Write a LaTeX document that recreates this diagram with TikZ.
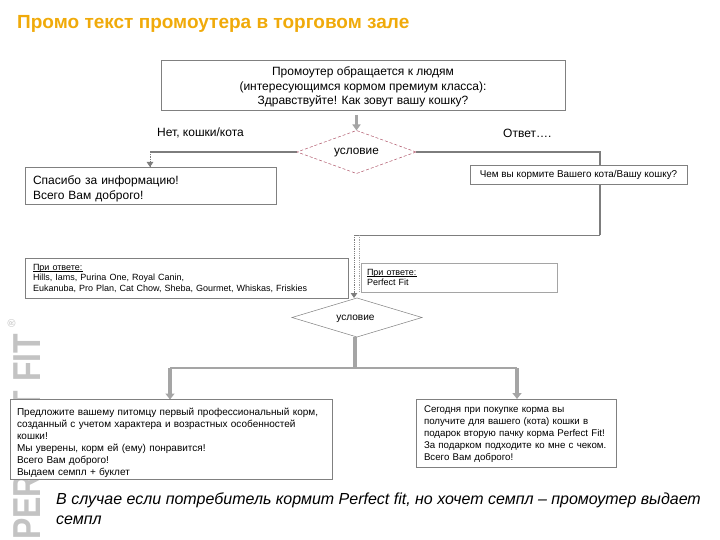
\documentclass[tikz,border=0pt]{standalone}
\usepackage{fontspec}
\usepackage{graphicx}
\setmainfont{Liberation Sans}
\usetikzlibrary{arrows.meta,shapes.geometric,backgrounds}
\definecolor{boxline}{RGB}{128,128,128}
\definecolor{conn}{RGB}{125,125,125}
\definecolor{connlight}{RGB}{165,165,165}
\definecolor{titleorange}{RGB}{240,170,10}
\definecolor{pinkline}{RGB}{175,85,105}
\definecolor{logo}{RGB}{195,195,195}
\newcommand{\askline}{\rlap{\rule[-1.3pt]{50pt}{0.7pt}}При ответе:}
\newcommand{\difflabel}{\raisebox{-3pt}[0pt][0pt]{условие}}
\tikzset{
 x=1pt,y=-1pt,
 flow/.style={rectangle,draw=boxline,line width=0.8pt,fill=white,inner ysep=0pt,inner xsep=8pt,outer sep=0pt,text=black,align=left},
 diam/.style={diamond,aspect=2.74,inner sep=0pt,outer sep=0pt,fill=white,text=black},
 wire/.style={draw=conn,line width=1.8pt},
 fatwire/.style={draw=connlight,line width=3.6pt},
 dotwire/.style={draw=conn,densely dotted,line width=0.8pt},
 smalltip/.style={-{Triangle[length=5pt,width=6.5pt]}},
 fattip/.style={-{Triangle[length=6pt,width=9pt]}},
 lab/.style={inner sep=0pt,font=\fontsize{12}{14}\selectfont},
}
\begin{document}
\begin{tikzpicture}
\useasboundingbox (0,0) rectangle (720,540);
% logo
\node[rotate=90,anchor=base west,inner sep=0pt,text=logo,font=\fontsize{39}{39}\selectfont\bfseries] (logotext) at (40,540) {\scalebox{.82}[1]{PERFECT FIT}};
\node[rotate=90,text=logo,inner sep=0pt,font=\fontsize{11}{11}\selectfont] (logoreg) at (11.5,323) {®};
% title
\node[anchor=west,inner sep=0pt,text=titleorange,font=\fontsize{19}{20}\selectfont\bfseries] (title) at (17,24) {Промо текст промоутера в торговом зале};
% boxes
\node[flow,minimum width=404,minimum height=50,align=center,font=\fontsize{12}{14.7}\selectfont] (top) at (363,85) {\rule{0pt}{13pt}Промоутер обращается к людям\\(интересующимся кормом премиум класса):\\Здравствуйте! Как зовут вашу кошку?};
\node[draw=pinkline,densely dashed,line width=0.5pt,diam,minimum width=119,minimum height=43,font=\fontsize{11.8}{13}\selectfont] (d1) at (356.5,152) {\difflabel};
\node[lab,anchor=west] (no) at (157,133) {Нет, кошки/кота};
\node[lab,anchor=west] (ans) at (503,133) {Ответ….};
\node[flow,minimum width=251,minimum height=37,text width=235,font=\fontsize{12}{15}\selectfont] (thanks) at (150.5,185.5) {\rule{0pt}{15pt}Спасибо за информацию!\\Всего Вам доброго!};
\node[flow,minimum width=217,minimum height=19,align=center,font=\fontsize{9.9}{11}\selectfont] (what) at (578.5,174.5) {\raisebox{-1pt}{Чем вы кормите Вашего кота/Вашу кошку?}};
\node[flow,minimum width=323,minimum height=40,text width=307,font=\fontsize{9}{10.5}\selectfont] (other) at (186.5,278) {\askline\\Hills, Iams, Purina One, Royal Canin,\\Eukanuba, Pro Plan, Cat Chow, Sheba, Gourmet, Whiskas, Friskies};
\node[flow,draw=connlight,inner xsep=6pt,minimum width=196,minimum height=29,text width=184,font=\fontsize{9}{10.5}\selectfont] (pf) at (459,277.5) {\askline\\Perfect Fit};
\node[draw=boxline,line width=0.5pt,diam,minimum width=130,minimum height=39,font=\fontsize{10.1}{12}\selectfont] (d2) at (357,317.5) {\hspace*{-3pt}\difflabel};
\node[flow,inner xsep=7pt,minimum width=322,minimum height=80,text width=308,font=\fontsize{10}{12}\selectfont] (offer) at (171,439.5) {\rule{0pt}{13.5pt}Предложите вашему питомцу первый профессиональный корм,\\созданный с учетом характера и возрастных особенностей\\кошки!\\Мы уверены, корм ей (ему) понравится!\\Всего Вам доброго!\\Выдаем семпл + буклет};
\node[flow,minimum width=200,minimum height=68,text width=184,font=\fontsize{9.7}{12}\selectfont] (gift) at (516,433) {\rule{0pt}{9.5pt}\mbox{Сегодня при покупке корма вы}\\\mbox{получите для вашего (кота) кошки в}\\\mbox{подарок вторую пачку корма Perfect Fit!}\\\mbox{За подарком подходите ко мне с чеком.}\\\mbox{Всего Вам доброго!}};
\node[anchor=west,inner sep=0pt,align=left,font=\fontsize{16}{20}\selectfont\itshape] (note) at (56,509) {В случае если потребитель кормит Perfect fit, но хочет семпл – промоутер выдает\\семпл};
% connector bends
\coordinate (noT) at (150,152);
\coordinate (ansC) at (600,152);
\coordinate (ansB) at (600,235);
\coordinate (mid) at (354,235);
\coordinate (midb) at (359,235);
\coordinate (bar) at (355,368);
\coordinate (barL) at (170,368);
\coordinate (barR) at (517,368);
\begin{pgfonlayer}{background}
\draw[connlight,line width=3pt,-{Triangle[length=6pt,width=8pt]},shorten <=5pt] (d1.north |- top.south) -- (d1.north);
\draw[wire] (d1.west) -- (noT);
\draw[dotwire] (noT) -- (noT |- thanks.north);
\draw[conn,smalltip,line width=0.8pt,shorten <=10pt] (noT) -- (noT |- thanks.north);
\draw[wire] (d1.east) -- (ansC) -- (ansB);
\draw[conn,line width=0.8pt] (ansB) -- (mid);
\draw[dotwire] (mid) -- (mid |- d2.north);
\draw[dotwire,draw=connlight] (midb) -- (midb |- pf.south);
\draw[conn,smalltip,line width=0.8pt,shorten <=56pt] (mid) -- (mid |- d2.north);
\draw[fatwire] (d2.south -| bar) -- (bar);
\draw[connlight,line width=2.2pt] (bar) -- (barL);
\draw[connlight,line width=1.1pt] (bar) -- (barR);
\draw[fatwire,fattip] (barL) -- (barL |- offer.north);
\draw[fatwire,fattip] (barR) -- (barR |- gift.north);
\end{pgfonlayer}
\end{tikzpicture}
\end{document}
